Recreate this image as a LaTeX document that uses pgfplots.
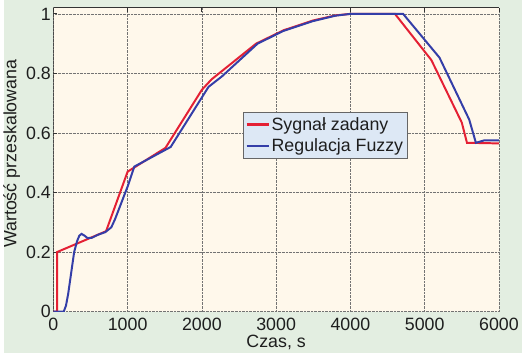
\documentclass[border=0pt]{standalone}
\usepackage{pgfplots}
\pgfplotsset{compat=1.18}
\usepackage{fontspec}
\setmainfont{Liberation Sans}
\definecolor{bggreen}{RGB}{227,238,225}
\definecolor{plotbg}{RGB}{255,248,235}
\definecolor{legbg}{RGB}{221,232,245}
\definecolor{sred}{RGB}{228,32,52}
\definecolor{sblue}{RGB}{52,62,168}
\definecolor{txt}{RGB}{30,30,30}
\newcommand{\bigf}{\fontsize{18}{21}\selectfont}
\begin{document}
\begin{tikzpicture}
\fill[bggreen] (0,0) rectangle (522bp,356bp);
\begin{axis}[
  at={(50bp,42bp)}, anchor=south west,
  scale only axis, width=449bp, height=306bp,
  xmin=0, xmax=6000, ymin=0, ymax=1.02,
  axis background/.style={fill=plotbg},
  axis line style={draw=none},
  xtick={0,1000,2000,3000,4000,5000,6000},
  xticklabels={0,1000,2000,3000,4000,5000,6000},
  ytick={0,0.2,0.4,0.6,0.8,1},
  yticklabels={0,0.2,0.4,0.6,0.8,1},
  /pgf/number format/assume math mode=true,
  tick align=inside, major tick length=4bp,
  tick style={black!80, line width=0.8pt},
  xtick pos=top, ytick pos=left,
  xticklabel pos=bottom,
  grid=major,
  major grid style={densely dotted, black!55, line width=0.7pt},
  tick label style={font=\bigf, text=txt},
  xticklabel style={yshift=-3bp},
  yticklabel style={xshift=1bp},
  label style={font=\bigf, text=txt},
  xlabel={Czas, s},
  ylabel={Wartość przeskalowana},
  xlabel style={at={(axis description cs:0.5,0)}, anchor=north, yshift=-20bp},
  ylabel style={at={(axis description cs:0,0.52)}, anchor=south, yshift=30bp},
  legend style={at={(axis cs:2560,0.67)}, anchor=north west,
    fill=legbg, draw=black!60,
    font=\bigf, text=txt,
    inner xsep=2bp, inner ysep=3bp, row sep=3bp},
  legend cell align=left,
  legend image code/.code={\pgfsetlinewidth{2.2pt}\draw[#1, line width=2.2pt] (0bp,0bp) -- (22bp,0bp);},
]
\draw[black!80, line width=1pt] (rel axis cs:0,0) -- (rel axis cs:0,1) -- (rel axis cs:1,1);
\addplot[draw=sred, color=sred, line width=2pt] coordinates {
(0,0) (50,0) (50,0.2) (710,0.27) (1000,0.47) (1510,0.55) (2000,0.745) (2130,0.78)
(2730,0.9) (3100,0.945) (3500,0.978) (3800,0.995) (4000,1.0) (4600,1.0)
(5090,0.845) (5500,0.635) (5570,0.567) (6000,0.565)};
\addlegendentry{Sygnał zadany}
\addplot[draw=sblue, color=sblue, line width=2pt] coordinates {
(0,0) (140,0) (170,0.02) (200,0.06) (240,0.13) (280,0.2) (320,0.237) (350,0.255)
(380,0.261) (420,0.255) (460,0.247) (520,0.248) (600,0.258) (700,0.267) (780,0.283)
(830,0.31) (1000,0.42) (1090,0.487) (1580,0.553) (2090,0.755) (2270,0.79)
(2750,0.9) (3100,0.943) (3500,0.976) (3800,0.994) (4000,1.0) (4710,1.0)
(5200,0.853) (5600,0.645) (5690,0.567) (5800,0.575) (6000,0.575)};
\addlegendentry{Regulacja Fuzzy}
\end{axis}
\end{tikzpicture}
\end{document}
